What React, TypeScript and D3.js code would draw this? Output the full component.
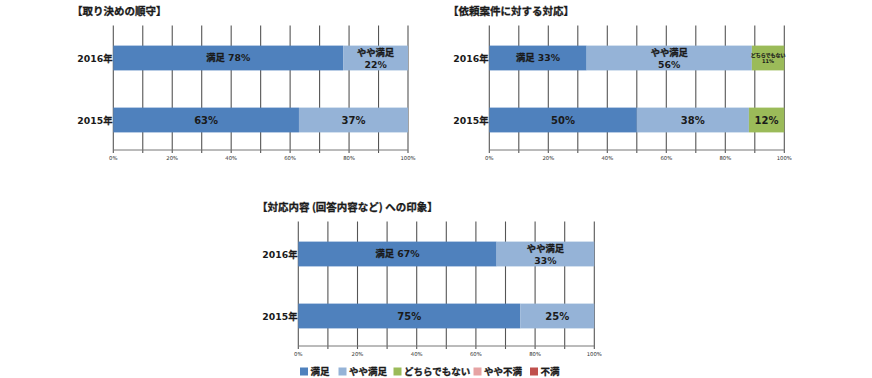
import React from "react";
import * as d3 from "d3";

const categories = ["2016年", "2015年"];
const seriesNames = ["満足", "やや満足", "どちらでもない", "やや不満", "不満"];
const seriesColors = ["#4F81BD", "#95B3D7", "#9BBB59", "#E6A3A3", "#C0504D"];
const tickValues = [0, 20, 40, 60, 80, 100];
const gridValues = [0, 10, 20, 30, 40, 50, 60, 70, 80, 90, 100];

const chartTitles = ["【取り決めの順守】", "【依頼案件に対する対応】", "【対応内容 (回答内容など) への印象】"];

// values per series: [2016, 2015]
const chart1Satisfied = [78, 63];
const chart1Somewhat = [22, 37];
const chart1Neutral = [0, 0];
const chart2Satisfied = [33, 50];
const chart2Somewhat = [56, 38];
const chart2Neutral = [11, 12];
const chart3Satisfied = [67, 75];
const chart3Somewhat = [33, 25];
const chart3Neutral = [0, 0];

const charts = [
  { title: chartTitles[0], series: [chart1Satisfied, chart1Somewhat, chart1Neutral], x0: 113.3, x1: 408, top: 25.5, titleX: 72 },
  { title: chartTitles[1], series: [chart2Satisfied, chart2Somewhat, chart2Neutral], x0: 489.3, x1: 784.3, top: 25.5, titleX: 448 },
  { title: chartTitles[2], series: [chart3Satisfied, chart3Somewhat, chart3Neutral], x0: 298.3, x1: 594.3, top: 221.5, titleX: 257 },
];

const FONT = "'DejaVu Sans', 'Noto Sans CJK JP', sans-serif";
const CJK = "'Noto Sans CJK JP', 'DejaVu Sans', sans-serif";
const legendX = [300, 338.5, 393.5, 473.5, 530];
const TXT = "#1a1a1a";
const boldStroke = { stroke: TXT, strokeWidth: 0.3, paintOrder: "stroke" as const };
const LF = 9.3;

function splitCjk(s: string) {
  // returns [cjkPart, latinPart]
  const m = s.match(/^([^\x00-\x7F]*)(.*)$/);
  return m ? [m[1], m[2]] : ["", s];
}

function Chart({ cfg }: { cfg: typeof charts[number] }) {
  const gridBottom = cfg.top + 124.5;
  const x = d3.scaleLinear().domain([0, 100]).range([cfg.x0, cfg.x1]);
  const y = d3.scaleBand<string>().domain(categories).range([cfg.top + 1.5, cfg.top + 125.5]).paddingInner(0.6).paddingOuter(0.3);
  const stack = d3.stack<number>().keys([0, 1, 2] as any).value((i: number, k: any) => cfg.series[k][i]);
  const stacked = stack(categories.map((_, i) => i) as any);
  return (
    <g>
      <text x={cfg.titleX} y={cfg.top - 10.5} fontSize={10.5} fontWeight="bold" fill={TXT} fontFamily={CJK} {...boldStroke}>{cfg.title}</text>
      {gridValues.map((g) => (
        <line key={g} x1={x(g)} x2={x(g)} y1={cfg.top} y2={gridBottom + 3} stroke="#555" strokeWidth={1.1} />
      ))}
      <line x1={x(0)} x2={x(100)} y1={gridBottom} y2={gridBottom} stroke="#777" strokeWidth={1} />
      {tickValues.map((t) => (
        <text key={t} x={x(t)} y={gridBottom + 9.5} fontSize={5.3} textAnchor="middle" fill="#333" fontFamily={FONT}>{t}%</text>
      ))}
      {stacked.map((layer: any, si: number) =>
        layer.map((d: any, ci: number) => {
          const v = d[1] - d[0];
          if (v <= 0) return null;
          const bx = x(d[0]);
          const bw = x(d[1]) - x(d[0]);
          const by = y(categories[ci])!;
          const bh = y.bandwidth();
          const cx = bx + bw / 2;
          const cy = by + bh / 2;
          let label: React.ReactNode;
          if (ci === 0) {
            if (si === 0) {
              label = (
                <text x={cx} y={cy + 3.4} fontSize={LF} fontWeight="bold" textAnchor="middle" fill={TXT} fontFamily={FONT}>
                  <tspan {...boldStroke}>{seriesNames[si]}</tspan> {v}%
                </text>
              );
            } else if (si === 2) {
              label = (
                <g>
                  <text x={cx} y={cy - 1.2} textAnchor="middle" fontSize={5} fontWeight="bold" fill={TXT} fontFamily={FONT} stroke={TXT} strokeWidth={0.15}>{seriesNames[si]}</text>
                  <text x={cx} y={cy + 5.2} textAnchor="middle" fontSize={5} fontWeight="bold" fill={TXT} fontFamily={FONT}>{v}%</text>
                </g>
              );
            } else {
              label = (
                <g>
                  <text x={cx} y={cy - 1.8} textAnchor="middle" fontSize={LF} fontWeight="bold" fill={TXT} fontFamily={FONT} {...boldStroke}>{seriesNames[si]}</text>
                  <text x={cx} y={cy + 9.7} textAnchor="middle" fontSize={LF} fontWeight="bold" fill={TXT} fontFamily={FONT}>{v}%</text>
                </g>
              );
            }
          } else {
            label = <text x={cx} y={cy + 3.7} fontSize={10} fontWeight="bold" textAnchor="middle" fill={TXT} fontFamily={FONT}>{v}%</text>;
          }
          return (
            <g key={`${si}-${ci}`}>
              <rect x={bx} y={by} width={bw} height={bh} fill={seriesColors[si]} />
              {label}
            </g>
          );
        })
      )}
      {categories.map((c) => {
        const digits = c.replace(/[^\x00-\x7F]/g, "");
        const suffix = c.replace(/[\x00-\x7F]/g, "");
        return (
          <text key={c} x={cfg.x0 - 0.8} y={y(c)! + y.bandwidth() / 2 + 3.6} fontSize={LF} fontWeight="bold" textAnchor="end" fill={TXT} fontFamily={FONT}>
            {digits}<tspan {...boldStroke}>{suffix}</tspan>
          </text>
        );
      })}
    </g>
  );
}

export default function App() {
  return (
    <svg width={872} height={378} style={{ position: "absolute", left: 0, top: 0, background: "#fff" }}>
      <rect width={872} height={378} fill="#fff" />
      {charts.map((c, i) => <Chart key={i} cfg={c} />)}
      {seriesNames.map((n, i) => (
        <g key={n}>
          <rect x={legendX[i]} y={367.5} width={8} height={8} fill={seriesColors[i]} />
          <text x={legendX[i] + 10.5} y={375} fontSize={9.5} fontWeight="bold" fill={TXT} fontFamily={CJK} {...boldStroke}>{n}</text>
        </g>
      ))}
    </svg>
  );
}
